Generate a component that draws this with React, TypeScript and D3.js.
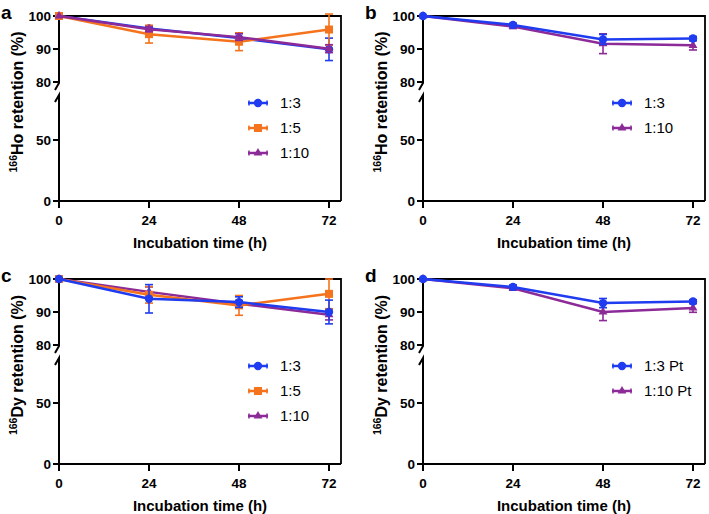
import { useEffect, useRef } from 'react'
import * as d3 from 'd3'

const times = [0, 24, 48, 72]
const xTicks = [0, 24, 48, 72]
const yTicksUpper = [80, 90, 100]
const yTicksLower = [0, 50]

// a: 166Ho
const hoA13 = [100, 96.2, 93.3, 89.9]
const hoA13Err = [0, 0.8, 1.5, 3.4]
const hoA15 = [100, 94.5, 92.2, 95.9]
const hoA15Err = [0, 2.7, 2.7, 4.7]
const hoA110 = [100, 96.0, 93.6, 90.1]
const hoA110Err = [0, 0.8, 1.0, 1.2]
// b: 166Ho
const hoB13 = [100, 97.3, 92.9, 93.2]
const hoB13Err = [0, 0.5, 1.5, 0.6]
const hoB110 = [100, 96.8, 91.6, 91.1]
const hoB110Err = [0, 0.6, 3.0, 1.4]
// c: 166Dy
const dyC13 = [100, 94.0, 93.0, 90.0]
const dyC13Err = [0, 4.3, 1.6, 3.6]
const dyC15 = [100, 95.2, 92.0, 95.5]
const dyC15Err = [0, 2.5, 3.0, 4.5]
const dyC110 = [100, 96.1, 92.5, 89.2]
const dyC110Err = [0, 1.5, 1.0, 1.6]
// d: 166Dy Pt
const dyD13 = [100, 97.6, 92.7, 93.2]
const dyD13Err = [0, 0.6, 1.4, 0.5]
const dyD110 = [100, 97.2, 90.0, 91.2]
const dyD110Err = [0, 0.6, 2.6, 1.3]

const BLUE = '#1f3cf0'
const ORANGE = '#f5731c'
const PURPLE = '#8c2a98'
const FONT = '"Liberation Sans", Arial, Helvetica, sans-serif'

type Series = { label: string; values: number[]; err: number[]; color: string; shape: string }

const panels = [
  {
    id: 'a', left: 59, top: 16, element: 'Ho',
    series: [
      { label: '1:3', values: hoA13, err: hoA13Err, color: BLUE, shape: 'circle' },
      { label: '1:5', values: hoA15, err: hoA15Err, color: ORANGE, shape: 'square' },
      { label: '1:10', values: hoA110, err: hoA110Err, color: PURPLE, shape: 'triangle' },
    ],
  },
  {
    id: 'b', left: 423, top: 16, element: 'Ho',
    series: [
      { label: '1:10', values: hoB110, err: hoB110Err, color: PURPLE, shape: 'triangle' },
      { label: '1:3', values: hoB13, err: hoB13Err, color: BLUE, shape: 'circle' },
    ],
    legendOrder: [1, 0],
  },
  {
    id: 'c', left: 59, top: 279, element: 'Dy',
    series: [
      { label: '1:10', values: dyC110, err: dyC110Err, color: PURPLE, shape: 'triangle' },
      { label: '1:5', values: dyC15, err: dyC15Err, color: ORANGE, shape: 'square' },
      { label: '1:3', values: dyC13, err: dyC13Err, color: BLUE, shape: 'circle' },
    ],
    legendOrder: [2, 1, 0],
  },
  {
    id: 'd', left: 423, top: 279, element: 'Dy',
    series: [
      { label: '1:10 Pt', values: dyD110, err: dyD110Err, color: PURPLE, shape: 'triangle' },
      { label: '1:3 Pt', values: dyD13, err: dyD13Err, color: BLUE, shape: 'circle' },
    ],
    legendOrder: [1, 0],
  },
]

function drawMarker(g: any, shape: string, cx: number, cy: number, color: string) {
  if (shape === 'circle') {
    g.append('circle').attr('cx', cx).attr('cy', cy).attr('r', 4.2).attr('fill', color)
  } else if (shape === 'square') {
    g.append('rect').attr('x', cx - 4).attr('y', cy - 4).attr('width', 8).attr('height', 8).attr('fill', color)
  } else {
    g.append('path')
      .attr('d', d3.symbol().type(d3.symbolTriangle).size(34)())
      .attr('transform', `translate(${cx},${cy})`)
      .attr('fill', color)
  }
}

export default function App() {
  const svgRef = useRef<SVGSVGElement>(null)

  useEffect(() => {
    if (!svgRef.current) return
    const svg = d3.select(svgRef.current)
    svg.selectAll('*').remove()

    panels.forEach(p => {
      const x0 = p.left
      const x1 = x0 + 282
      const top = p.top
      const bottom = top + 185
      const g = svg.append('g')

      const x = d3.scaleLinear().domain([0, 72]).range([x0, x0 + 270])
      const yU = d3.scaleLinear().domain([80, 100]).range([top + 66, top])
      const yL = d3.scaleLinear().domain([0, 50]).range([bottom, bottom - 61])
      const y = (v: number) => (v >= 80 ? yU(v) : yL(v))

      // frame (top + right)
      g.append('path')
        .attr('d', `M${x0},${top}H${x1}V${bottom}`)
        .attr('fill', 'none').attr('stroke', '#000').attr('stroke-width', 1.8)

      // bottom axis
      g.append('line').attr('x1', x0).attr('x2', x1).attr('y1', bottom).attr('y2', bottom)
        .attr('stroke', '#000').attr('stroke-width', 2)
      xTicks.forEach(t => {
        g.append('line').attr('x1', x(t)).attr('x2', x(t)).attr('y1', bottom).attr('y2', bottom + 7)
          .attr('stroke', '#000').attr('stroke-width', 2)
        g.append('text').attr('x', x(t)).attr('y', bottom + 24)
          .attr('text-anchor', 'middle').attr('font-family', FONT).attr('font-weight', 'bold')
          .attr('font-size', 13.5).text(t)
      })
      g.append('text').attr('x', x0 + 141).attr('y', bottom + 46.5)
        .attr('text-anchor', 'middle').attr('font-family', FONT).attr('font-weight', 'bold')
        .attr('font-size', 15).text('Incubation time (h)')

      // broken left axis
      const uEnd = yU(80) + 1
      const lStart = bottom - 106
      g.append('path')
        .attr('d', `M${x0},${top - 1}V${uEnd}L${x0 - 4},${uEnd + 7}`)
        .attr('fill', 'none').attr('stroke', '#000').attr('stroke-width', 2)
      g.append('path')
        .attr('d', `M${x0 - 4},${lStart + 7}L${x0},${lStart}V${bottom}`)
        .attr('fill', 'none').attr('stroke', '#000').attr('stroke-width', 2)
      const yTicks: [number, number][] = [
        ...yTicksUpper.map(t => [t, yU(t)] as [number, number]),
        ...yTicksLower.map(t => [t, yL(t)] as [number, number]),
      ]
      yTicks.forEach(([t, yy]) => {
        g.append('line').attr('x1', x0 - 6).attr('x2', x0).attr('y1', yy).attr('y2', yy)
          .attr('stroke', '#000').attr('stroke-width', 2)
        g.append('text').attr('x', x0 - 8).attr('y', yy).attr('dy', '0.35em')
          .attr('text-anchor', 'end').attr('font-family', FONT).attr('font-weight', 'bold')
          .attr('font-size', 13.5).text(t)
      })

      // y title
      const yt = g.append('text')
        .attr('transform', `translate(${x0 - 36},${top + 86}) rotate(-90)`)
        .attr('text-anchor', 'middle').attr('font-family', FONT).attr('font-weight', 'bold')
        .attr('font-size', 16)
      yt.append('tspan').attr('font-size', 10.5).attr('dy', -6).text('166')
      yt.append('tspan').attr('dy', 6).text(`${p.element} retention (%)`)

      // panel letter
      svg.append('text').attr('x', x0 - 58).attr('y', top + 3)
        .attr('font-family', FONT).attr('font-weight', 'bold').attr('font-size', 19)
        .text(p.id)

      // series
      const line = d3.line<number>().x((_, i) => x(times[i])).y(v => y(v))
      ;(p.series as Series[]).forEach(s => {
        g.append('path').datum(s.values).attr('d', line)
          .attr('fill', 'none').attr('stroke', s.color).attr('stroke-width', 2.5)
        s.values.forEach((v, i) => {
          const e = s.err[i]
          if (e > 0) {
            const cx = x(times[i])
            g.append('line').attr('x1', cx).attr('x2', cx).attr('y1', y(v - e)).attr('y2', y(v + e))
              .attr('stroke', s.color).attr('stroke-width', 1.6)
            ;[v - e, v + e].forEach(w => {
              g.append('line').attr('x1', cx - 4).attr('x2', cx + 4).attr('y1', y(w)).attr('y2', y(w))
                .attr('stroke', s.color).attr('stroke-width', 1.6)
            })
          }
          drawMarker(g, s.shape, x(times[i]), y(v), s.color)
        })
      })

      // legend
      const order = (p as any).legendOrder || p.series.map((_, i) => i)
      const lx = x0 + 189
      order.forEach((idx: number, k: number) => {
        const s = p.series[idx] as Series
        const ly = top + 87 + k * 25
        g.append('line').attr('x1', lx).attr('x2', lx + 20).attr('y1', ly).attr('y2', ly)
          .attr('stroke', s.color).attr('stroke-width', 2.5)
        ;[lx + 1, lx + 19].forEach(cx => {
          g.append('line').attr('x1', cx).attr('x2', cx).attr('y1', ly - 2.5).attr('y2', ly + 2.5)
            .attr('stroke', s.color).attr('stroke-width', 1.5)
        })
        drawMarker(g, s.shape, lx + 10, ly, s.color)
        g.append('text').attr('x', lx + 32).attr('y', ly).attr('dy', '0.35em')
          .attr('font-family', FONT).attr('font-size', 15).text(s.label)
      })
    })
  }, [])

  return (
    <svg ref={svgRef} width={709} height={514}
      style={{ position: 'absolute', left: 0, top: 0, background: '#fff' }} />
  )
}
